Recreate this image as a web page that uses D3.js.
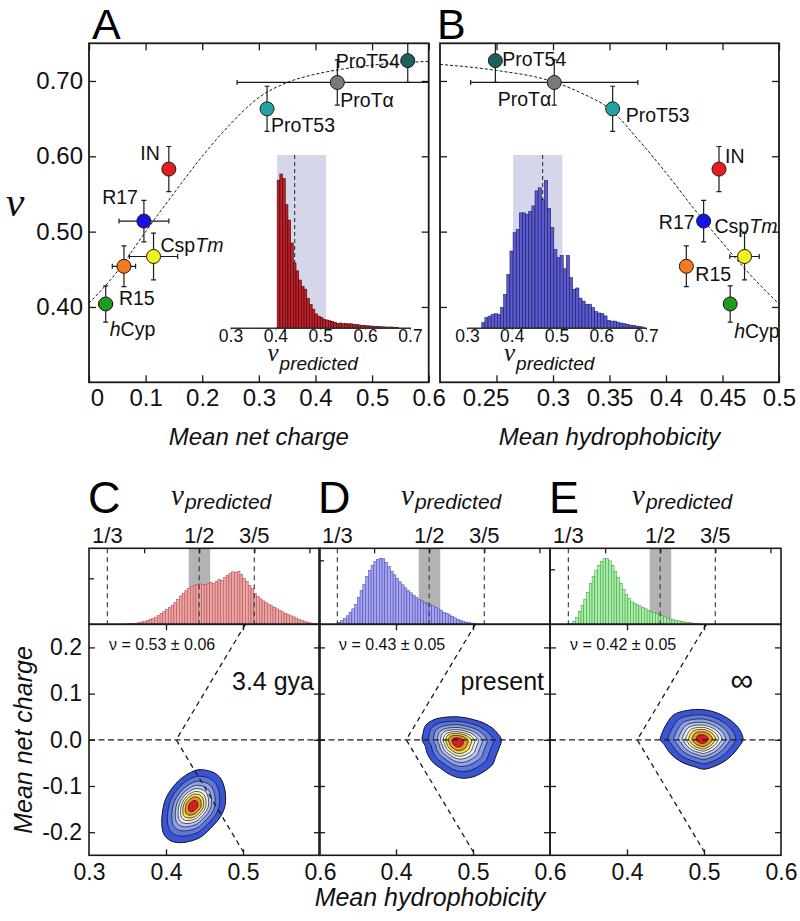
<!DOCTYPE html>
<html><head><meta charset="utf-8">
<script src="https://cdn.jsdelivr.net/npm/d3@7"></script>
<style>body{margin:0;background:#fff}svg{display:block}</style>
</head><body><svg id="c" width="800" height="921"></svg>
<script>
// ================= DATA =================
const proteinNames = ["hCyp","R15","CspTm","R17","IN","ProT53","ProTα","ProT54"];
const nuValues     = [0.404,0.454,0.467,0.514,0.583,0.663,0.698,0.727];
const nuErr        = [0.024,0.027,0.031,0.0275,0.030,0.030,0.030,0.029];
const netCharge    = [0.0295,0.0617,0.114,0.097,0.141,0.3145,0.4386,0.563];
const netChargeErr = [0.012,0.0206,0.0426,0.044,0,0,0.177,0];
const hydrophobicity    = [0.4568,0.418,0.4695,0.4333,0.4469,0.3528,0.3011,0.249];
const hydrophobicityErr = [0,0,0.013,0,0,0,0.074,0];

const fitChargeX = [0,0.05,0.1,0.15,0.2,0.25,0.3,0.35,0.4,0.45,0.5,0.55,0.6];
const fitChargeNu = [0.405,0.447,0.500,0.551,0.600,0.643,0.678,0.698,0.709,0.716,0.721,0.724,0.726];
const fitHydroX = [0.2,0.25,0.3,0.325,0.35,0.375,0.4,0.425,0.45,0.475,0.5];
const fitHydroNu = [0.722,0.714,0.699,0.684,0.663,0.623,0.578,0.530,0.485,0.442,0.404];

const xTicksA = [0,0.1,0.2,0.3,0.4,0.5,0.6];
const xTicksB = [0.25,0.3,0.35,0.4,0.45,0.5];
const nuTicks = [0.40,0.50,0.60,0.70];
const insetTicks = [0.3,0.4,0.5,0.6,0.7];

// inset histograms (counts, per-mille of shaded-band height)
const insetAStart = 0.404, insetABin = 0.006;
const insetACounts = [854,890,863,712,623,490,374,329,276,240,223,169,134,107,80,67,58,49,45,40,37,31,25,27,23,25,22,23,20,18,16,14,13,11,10,9,8,7,6,5,4,4,4,3,2];
const insetBStart = 0.333, insetBBin = 0.007;
const insetBCounts = [29,58,67,77,81,77,116,193,307,444,550,569,665,665,657,674,705,792,810,742,853,691,580,452,405,418,341,418,290,222,230,171,154,136,136,116,94,85,81,68,43,38,38,32,27,23,20,15,14,9,6,4];
const insetBandA = [0.404,0.513], insetMedianA = 0.443;
const insetBandB = [0.403,0.513], insetMedianB = 0.469;

// C/D/E
const evoLabels = ["3.4 gya","present","∞"];
const evoNuText = ["ν = 0.53 ± 0.06","ν = 0.43 ± 0.05","ν = 0.42 ± 0.05"];
const nuMarks = [1/3,1/2,3/5];
const nuMarkLabels = ["1/3","1/2","3/5"];
const nuBand = [0.481,0.520];
const histBin = 0.005;
const histCStart = 0.369;
const histCCounts = [0.5,0.7,0.9,1.2,1.8,2.4,2.9,3.8,5,6,7.2,9,10.8,13,15,16.6,19,21.8,25,28.4,31,33.7,36,37.5,38.8,40,40.5,39.5,40,40.5,42,41,43,45,44,47,49,51,52.5,52,53,50,46,43,39,36,31,28,25.5,23.5,22,20,18.5,17,15.5,14,12.5,11,10,8.5,7.5,6.3,5,4,3,2.2,1.5,1,0.6];
const histDStart = 0.3345;
const histDCounts = [2,4,6,8.5,12,15.5,20,27,34,40,48,54,59,63,65,66,65.5,62,58,53,49.5,46,42.5,39.5,36.5,34,31.5,29,27,25,23.5,22,21,20,18.5,17,15.5,14,12,11,9.5,8,6.5,5,4,3,2.3,1.7,1.2,0.8,0.5];
const histEStart = 0.3363;
const histECounts = [1,3,7,13,19,25,32,41,48,54,59,63,65.5,66,63.5,59,53,47,41,35,30,26,22.5,21,19.5,18.5,17,15.5,14,12.8,11.8,10.6,9.5,8.5,7.5,6.3,5.3,4.6,4,3.5,3,2.5,2,1.6,1.2,0.9,0.6];
const histCountTick = [46,64,55];

const boundaryH = [0.5031,0.4133,0.5031];
const boundaryR = [0.25,0,-0.25];
const contTicksX = [0.4,0.5];
const contTicksY = [-0.2,-0.1,0,0.1,0.2];

const contourCH = [0.449,0.462,0.4708,0.476,0.4773,0.4764,0.4708,0.462,0.4534,0.4447,0.4339,0.4186,0.4056,0.3978,0.3948,0.3952,0.3991,0.4078,0.4186,0.4317,0.4404];
const contourCR = [-0.0651,-0.0709,-0.0831,-0.1048,-0.123,-0.1446,-0.1663,-0.1844,-0.1989,-0.2112,-0.2184,-0.2227,-0.2184,-0.206,-0.188,-0.159,-0.130,-0.1048,-0.0853,-0.0709,-0.0651];
const peakC = [0.4352,-0.1432];
const contourDH = [0.4382,0.449,0.4665,0.4838,0.5012,0.5142,0.5251,0.5316,0.5369,0.5338,0.5295,0.5251,0.5142,0.5012,0.4861,0.4708,0.4578,0.4469,0.4404,0.4382,0.4339,0.4352];
const contourDR = [0.0304,0.0434,0.0492,0.0492,0.0434,0.0362,0.0253,0.0145,0,-0.018,-0.0362,-0.0542,-0.0687,-0.0796,-0.0832,-0.0759,-0.0614,-0.047,-0.0289,-0.0145,0,0.0145];
const peakD = [0.4795,-0.0037];
const contourEH = [0.4608,0.4782,0.4999,0.5173,0.5303,0.5412,0.5477,0.5507,0.5455,0.5369,0.526,0.5129,0.4999,0.4868,0.4738,0.463,0.4543,0.4486,0.4434,0.4456,0.4521];
const contourER = [0.0542,0.0636,0.0651,0.0579,0.047,0.0325,0.018,0,-0.0145,-0.0325,-0.047,-0.0579,-0.0636,-0.0579,-0.0506,-0.0397,-0.0253,-0.0108,0,0.0145,0.0362];
const peakE = [0.4978,0.0015];
const contourLevels = [1,0.82,0.68,0.57,0.48,0.40,0.33,0.25,0.15];

// ================= STYLE =================
const FONT = "'Liberation Sans', Arial, Helvetica, sans-serif";
const SERIF = "'Liberation Serif','Times New Roman',serif";
const pointColors = ["#1e9a1e","#f47a20","#f2f21e","#1414e6","#e81c1c","#22a3a3","#7a7a7a","#1c5f5f"];
const levelColors = ["#3a54d6","#5e78de","#8ea2ea","#bac7f2","#eceffb","#fdf6cf","#f4dc4a","#e8903a","#d62020"];
const histStyles = [{fill:"#eba4a4",stroke:"#b04848"},{fill:"#a4a4f2",stroke:"#4444aa"},{fill:"#a8eea8",stroke:"#3c983c"}];
const INK = "#1a1a1a";

const svg = d3.select("#c");
const defs = svg.append("defs");

function styleAxis(g, fs){
  g.attr("font-size",fs).attr("font-family",FONT);
  g.select(".domain").remove();
  g.selectAll(".tick line").attr("stroke",INK).attr("stroke-width",1.3);
  g.selectAll(".tick text").attr("fill","#111");
}

// ================= PANELS A & B =================
const top1 = 43.3, bot1 = 382.3;
const xA = d3.scaleLinear().domain([0,0.6]).range([89,428.7]);
const xB = d3.scaleLinear().domain([0.2,0.5]).range([440,779]);
const yNu = d3.scaleLinear().domain([0.30,0.75]).range([bot1,top1]);

const labelLayoutA = {"hCyp":[4,32,"start"],"R15":[-5,39,"start"],"CspTm":[7,-4,"start"],"R17":[-6,-17,"end"],"IN":[-9,-9,"end"],"ProT53":[4,23,"start"],"ProTα":[3,25,"start"],"ProT54":[-8,7,"end"]};
const labelLayoutB = {"hCyp":[4,34,"start"],"R15":[9,15,"start"],"CspTm":[-30,-23,"start"],"R17":[-9,8,"end"],"IN":[6,-6,"start"],"ProT53":[13,13,"start"],"ProTα":[-3,24,"end"],"ProT54":[7,5,"start"]};

function writeName(t, name){
  if(name==="hCyp"){ t.append("tspan").attr("font-style","italic").text("h"); t.append("tspan").text("Cyp"); }
  else if(name==="CspTm"){ t.append("tspan").text("Csp"); t.append("tspan").attr("font-style","italic").text("Tm"); }
  else t.text(name);
}

function drawScatterPanel(id, xs, xVals, xErr, fitX, fitY, xTicks, layout, showYLabels, xLabelShift){
  const [x0,x1] = xs.range();
  defs.append("clipPath").attr("id",id).append("rect").attr("x",x0).attr("y",top1).attr("width",x1-x0).attr("height",bot1-top1);
  const g = svg.append("g");
  const inner = g.append("g").attr("clip-path",`url(#${id})`);
  const line = d3.line().x(d=>xs(d[0])).y(d=>yNu(d[1])).curve(d3.curveMonotoneX);
  inner.append("path").attr("d",line(fitX.map((x,i)=>[x,fitY[i]]))).attr("fill","none")
    .attr("stroke",INK).attr("stroke-width",1).attr("stroke-dasharray","3,2");
  const cap = 2.5;
  proteinNames.forEach((n,i)=>{
    const cx = xs(xVals[i]), cy = yNu(nuValues[i]);
    const ey0 = yNu(nuValues[i]-nuErr[i]), ey1 = yNu(nuValues[i]+nuErr[i]);
    const eb = inner.append("g").attr("stroke",INK).attr("stroke-width",1.2);
    eb.append("line").attr("x1",cx).attr("x2",cx).attr("y1",ey0).attr("y2",ey1);
    eb.append("line").attr("x1",cx-cap).attr("x2",cx+cap).attr("y1",ey0).attr("y2",ey0);
    eb.append("line").attr("x1",cx-cap).attr("x2",cx+cap).attr("y1",ey1).attr("y2",ey1);
    if(xErr[i]>0){
      const ex0 = xs(xVals[i]-xErr[i]), ex1 = xs(xVals[i]+xErr[i]);
      eb.append("line").attr("x1",ex0).attr("x2",ex1).attr("y1",cy).attr("y2",cy);
      eb.append("line").attr("x1",ex0).attr("x2",ex0).attr("y1",cy-cap).attr("y2",cy+cap);
      eb.append("line").attr("x1",ex1).attr("x2",ex1).attr("y1",cy-cap).attr("y2",cy+cap);
    }
  });
  inner.selectAll("circle").data(proteinNames).join("circle")
    .attr("cx",(d,i)=>xs(xVals[i])).attr("cy",(d,i)=>yNu(nuValues[i])).attr("r",7)
    .attr("fill",(d,i)=>pointColors[i]).attr("stroke",INK).attr("stroke-width",1);
  proteinNames.forEach((n,i)=>{
    const L = layout[n];
    const t = g.append("text").attr("x",xs(xVals[i])+L[0]).attr("y",yNu(nuValues[i])+L[1])
      .attr("text-anchor",L[2]).attr("font-family",FONT).attr("font-size",19.5).attr("fill","#111");
    writeName(t,n);
  });
  const fmtB = d=>d3.format(".2~f")(d);
  const ax = g.append("g").attr("transform",`translate(0,${bot1})`)
    .call(d3.axisBottom(xs).tickValues(xTicks).tickSizeInner(-7).tickSizeOuter(0).tickPadding(7).tickFormat(fmtB)).call(styleAxis,24);
  ax.selectAll(".tick text").attr("dx",d=>xLabelShift[d]||0);
  g.append("g").attr("transform",`translate(0,${top1})`)
    .call(d3.axisTop(xs).tickValues(xTicks).tickSizeInner(-7).tickSizeOuter(0).tickFormat("")).call(styleAxis,24);
  g.append("g").attr("transform",`translate(${x0},0)`)
    .call(d3.axisLeft(yNu).tickValues(nuTicks).tickSizeInner(-7).tickSizeOuter(0).tickPadding(6).tickFormat(showYLabels?d3.format(".2f"):"")).call(styleAxis,24);
  g.append("g").attr("transform",`translate(${x1},0)`)
    .call(d3.axisRight(yNu).tickValues(nuTicks).tickSizeInner(-7).tickSizeOuter(0).tickFormat("")).call(styleAxis,24);
  g.append("rect").attr("x",x0).attr("y",top1).attr("width",x1-x0).attr("height",bot1-top1)
    .attr("fill","none").attr("stroke",INK).attr("stroke-width",1.8);
  return g;
}

function drawInset(g, xs, start, bin, counts, band, median, fill, stroke){
  const ys = d3.scaleLinear().domain([0,1000]).range([327.7,155]);
  g.append("rect").attr("x",xs(band[0])).attr("width",xs(band[1])-xs(band[0]))
    .attr("y",ys(1000)).attr("height",ys(0)-ys(1000)).attr("fill","#d6d6ea");
  g.append("line").attr("x1",xs(median)).attr("x2",xs(median)).attr("y1",ys(1000)).attr("y2",ys(0))
    .attr("stroke","#333").attr("stroke-width",1.1).attr("stroke-dasharray","4,3");
  g.append("g").selectAll("rect").data(counts).join("rect")
    .attr("x",(d,i)=>xs(start+i*bin)).attr("width",(d,i)=>xs(start+(i+1)*bin)-xs(start+i*bin))
    .attr("y",d=>ys(d)).attr("height",d=>ys(0)-ys(d))
    .attr("fill",fill).attr("stroke",stroke).attr("stroke-width",0.6);
  const a = g.append("g").attr("transform",`translate(0,${ys(0)})`)
    .call(d3.axisBottom(xs).tickValues(insetTicks).tickSizeInner(2).tickSizeOuter(0).tickPadding(0).tickFormat(d3.format(".1f")));
  a.attr("font-size",17.5).attr("font-family",FONT);
  a.select(".domain").attr("stroke","#333").attr("stroke-width",1.4);
  a.selectAll(".tick line").attr("stroke","#333");
  a.selectAll(".tick text").attr("fill","#111");
  const [r0] = xs.range();
  const t = g.append("text").attr("x",r0+37).attr("y",361).attr("fill","#111");
  t.append("tspan").attr("font-family",SERIF).attr("font-style","italic").attr("font-size",25).text("ν");
  t.append("tspan").attr("font-family",FONT).attr("font-style","italic").attr("font-size",19).attr("dy",9).attr("dx",1).text("predicted");
}

const gA = drawScatterPanel("clipA", xA, netCharge, netChargeErr, fitChargeX, fitChargeNu, xTicksA, labelLayoutA, true, {0:8});
const gB = drawScatterPanel("clipB", xB, hydrophobicity, hydrophobicityErr, fitHydroX, fitHydroNu, xTicksB, labelLayoutB, false, {0.25:-11});

const xIA = d3.scaleLinear().domain([0.3,0.7]).range([230.5,410]);
const xIB = d3.scaleLinear().domain([0.3,0.7]).range([467,646]);
drawInset(gA.append("g"), xIA, insetAStart, insetABin, insetACounts, insetBandA, insetMedianA, "#c41e28", "#3c0a0a");
drawInset(gB.append("g"), xIB, insetBStart, insetBBin, insetBCounts, insetBandB, insetMedianB, "#5a5ad2", "#1c1c58");

svg.append("text").attr("x",15).attr("y",216).attr("text-anchor","middle").attr("font-family",SERIF)
  .attr("font-style","italic").attr("font-size",42).attr("fill","#111").text("ν");
svg.append("text").attr("x",(xA.range()[0]+xA.range()[1])/2).attr("y",445).attr("text-anchor","middle")
  .attr("font-family",FONT).attr("font-style","italic").attr("font-size",24).attr("fill","#111").text("Mean net charge");
svg.append("text").attr("x",(xB.range()[0]+xB.range()[1])/2).attr("y",445).attr("text-anchor","middle")
  .attr("font-family",FONT).attr("font-style","italic").attr("font-size",24).attr("fill","#111").text("Mean hydrophobicity");
svg.append("text").attr("x",92).attr("y",39).attr("font-family",FONT).attr("font-size",43).attr("fill","#000").text("A");
svg.append("text").attr("x",437).attr("y",39).attr("font-family",FONT).attr("font-size",43).attr("fill","#000").text("B");

// ================= PANELS C, D, E =================
const histTop = 548.3, histBot = 624.3, contBot = 855.3;
const panelLeft = [89,319,550], panelW = 231;
const yCharge = d3.scaleLinear().domain([-0.25,0.25]).range([contBot,histBot]);
const yCount = d3.scaleLinear().domain([0,76]).range([histBot,histTop]);
const histStarts = [histCStart,histDStart,histEStart];
const histCounts = [histCCounts,histDCounts,histECounts];
const contours = [[contourCH,contourCR,peakC],[contourDH,contourDR,peakD],[contourEH,contourER,peakE]];
const letters = ["C","D","E"];

panelLeft.forEach((x0,p)=>{
  const g = svg.append("g");
  const xH = d3.scaleLinear().domain([0.3,0.6]).range([x0,x0+panelW]);
  const xNu = d3.scaleLinear().domain([0.3,0.3+panelW/551]).range([x0,x0+panelW]);
  g.append("rect").attr("x",xNu(nuBand[0])).attr("width",xNu(nuBand[1])-xNu(nuBand[0]))
    .attr("y",histTop).attr("height",histBot-histTop).attr("fill","#b3b3b3");
  const st = histStyles[p], s0 = histStarts[p];
  g.append("g").selectAll("rect").data(histCounts[p]).join("rect")
    .attr("x",(d,i)=>xNu(s0+i*histBin)).attr("width",(d,i)=>xNu(s0+(i+1)*histBin)-xNu(s0+i*histBin))
    .attr("y",d=>yCount(d)).attr("height",d=>yCount(0)-yCount(d))
    .attr("fill",st.fill).attr("stroke",st.stroke).attr("stroke-width",0.5);
  nuMarks.forEach((m,k)=>{
    g.append("line").attr("x1",xNu(m)).attr("x2",xNu(m)).attr("y1",histTop).attr("y2",histBot)
      .attr("stroke","#444").attr("stroke-width",1.2).attr("stroke-dasharray","5,4");
    g.append("text").attr("x",xNu(m)).attr("y",543).attr("text-anchor","middle").attr("font-family",FONT)
      .attr("font-size",22).attr("fill","#111").text(nuMarkLabels[k]);
  });
  g.append("g").attr("transform",`translate(0,${histTop})`)
    .call(d3.axisTop(xNu).tickValues([0.4,0.5,0.6,0.7]).tickSizeInner(-5).tickSizeOuter(0).tickFormat("")).call(styleAxis,20);
  g.append("g").attr("transform",`translate(${x0},0)`)
    .call(d3.axisLeft(yCount).tickValues([histCountTick[p]]).tickSizeInner(-5).tickSizeOuter(0).tickFormat("")).call(styleAxis,20);
  const t = g.append("text").attr("x",x0+82).attr("y",505).attr("fill","#111");
  t.append("tspan").attr("font-family",SERIF).attr("font-style","italic").attr("font-size",29).text("ν");
  t.append("tspan").attr("font-family",FONT).attr("font-style","italic").attr("font-size",21).attr("dy",4).attr("dx",1).text("predicted");
  g.append("text").attr("x",x0-1).attr("y",513).attr("font-family",FONT).attr("font-size",45).attr("fill","#000").text(letters[p]);

  defs.append("clipPath").attr("id","cl"+p).append("rect").attr("x",x0).attr("y",histBot).attr("width",panelW).attr("height",contBot-histBot);
  const inner = g.append("g").attr("clip-path",`url(#cl${p})`);
  const [cH,cR,pk] = contours[p];
  const cline = d3.line().x(d=>xH(d[0])).y(d=>yCharge(d[1])).curve(d3.curveCatmullRomClosed);
  contourLevels.forEach((f,k)=>{
    const pts = cH.map((h,i)=>[pk[0]+f*(h-pk[0]), pk[1]+f*(cR[i]-pk[1])]);
    inner.append("path").attr("d",cline(pts)).attr("fill",levelColors[k]).attr("stroke","#111").attr("stroke-width",k===0?1:0.7);
  });
  inner.append("line").attr("x1",x0).attr("x2",x0+panelW).attr("y1",yCharge(0)).attr("y2",yCharge(0))
    .attr("stroke",INK).attr("stroke-width",1.3).attr("stroke-dasharray","6,3.5");
  inner.append("path").attr("d",d3.line().x((d,i)=>xH(d)).y((d,i)=>yCharge(boundaryR[i]))(boundaryH))
    .attr("fill","none").attr("stroke",INK).attr("stroke-width",1.3).attr("stroke-dasharray","5,4");
  g.append("text").attr("x",x0+20).attr("y",650).attr("font-family",FONT).attr("font-size",16).attr("fill","#111").text(evoNuText[p]);
  if(p<2){
    g.append("text").attr("x",x0+225).attr("y",690).attr("text-anchor","end").attr("font-family",FONT).attr("font-size",25).attr("fill","#111").text(evoLabels[p]);
  } else {
    g.append("text").attr("x",x0+192).attr("y",691).attr("text-anchor","middle").attr("font-family",FONT).attr("font-size",32).attr("fill","#111").text(evoLabels[p]);
  }
  const xt = p===0 ? [0.3,0.4,0.5,0.6] : [0.4,0.5,0.6];
  g.append("g").attr("transform",`translate(0,${contBot})`)
    .call(d3.axisBottom(xH).tickValues(xt).tickSizeInner(-6).tickSizeOuter(0).tickPadding(8).tickFormat(d3.format(".1f"))).call(styleAxis,23)
    .selectAll(".tick line").attr("stroke-opacity",d=>(d===0.4||d===0.5)?1:0);
  g.append("g").attr("transform",`translate(0,${histBot})`)
    .call(d3.axisTop(xH).tickValues(contTicksX).tickSizeInner(-6).tickSizeOuter(0).tickFormat("")).call(styleAxis,23);
  g.append("g").attr("transform",`translate(${x0},0)`)
    .call(d3.axisLeft(yCharge).tickValues(contTicksY).tickSizeInner(-6).tickSizeOuter(0).tickPadding(7).tickFormat(p===0?(d=>d.toFixed(1)):"")).call(styleAxis,23);
  g.append("g").attr("transform",`translate(${x0+panelW},0)`)
    .call(d3.axisRight(yCharge).tickValues(contTicksY).tickSizeInner(-6).tickSizeOuter(0).tickFormat("")).call(styleAxis,23);
  g.append("rect").attr("x",x0).attr("y",histTop).attr("width",panelW).attr("height",histBot-histTop)
    .attr("fill","none").attr("stroke",INK).attr("stroke-width",1.6);
  g.append("rect").attr("x",x0).attr("y",histBot).attr("width",panelW).attr("height",contBot-histBot)
    .attr("fill","none").attr("stroke",INK).attr("stroke-width",1.6);
});

svg.append("text").attr("x",430).attr("y",906).attr("text-anchor","middle").attr("font-family",FONT)
  .attr("font-style","italic").attr("font-size",25).attr("fill","#111").text("Mean hydrophobicity");
svg.append("text").attr("transform","translate(32,740) rotate(-90)").attr("text-anchor","middle").attr("font-family",FONT)
  .attr("font-style","italic").attr("font-size",25).attr("fill","#111").text("Mean net charge");
</script></body></html>
